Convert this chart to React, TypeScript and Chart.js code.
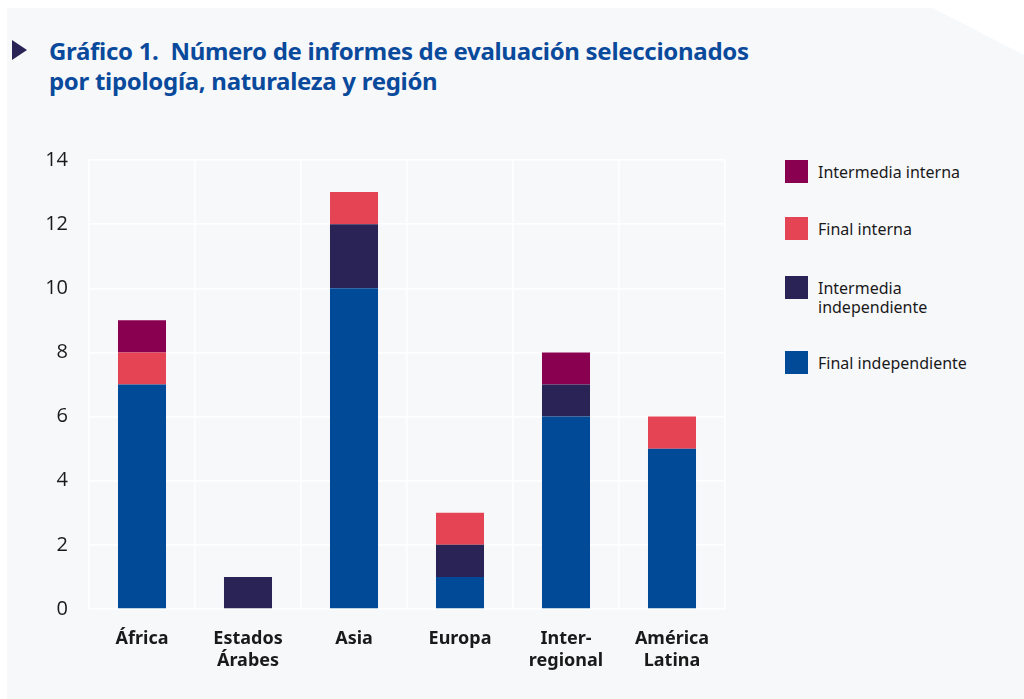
import React, { useEffect, useRef } from "react";
import { Chart, registerables } from "chart.js";

Chart.register(...registerables);

const categories: (string | string[])[] = [
  "África",
  ["Estados", "Árabes"],
  "Asia",
  "Europa",
  ["Inter-", "regional"],
  ["América", "Latina"],
];

const finalIndependiente = [7, 0, 10, 1, 6, 5];
const intermediaIndependiente = [0, 1, 2, 1, 1, 0];
const finalInterna = [1, 0, 1, 1, 0, 1];
const intermediaInterna = [1, 0, 0, 0, 1, 0];

const seriesNames = [
  "Final independiente",
  "Intermedia independiente",
  "Final interna",
  "Intermedia interna",
];
const seriesColors = ["#004a98", "#2a2355", "#e54455", "#8a0050"];

const legendItems = [
  { label: ["Intermedia interna"], color: "#8a0050", top: 160 },
  { label: ["Final interna"], color: "#e54455", top: 217 },
  { label: ["Intermedia", "independiente"], color: "#2a2355", top: 276 },
  { label: ["Final independiente"], color: "#004a98", top: 351 },
];

export default function App() {
  const canvasRef = useRef<HTMLCanvasElement>(null);

  useEffect(() => {
    if (!canvasRef.current) return;
    const data = [finalIndependiente, intermediaIndependiente, finalInterna, intermediaInterna];
    const chart = new Chart(canvasRef.current, {
      type: "bar",
      data: {
        labels: categories,
        datasets: data.map((d, i) => ({
          label: seriesNames[i],
          data: d,
          backgroundColor: seriesColors[i],
          borderWidth: 0,
          barPercentage: 0.453,
          categoryPercentage: 1,
          stack: "s",
        })),
      },
      options: {
        animation: false,
        responsive: false,
        maintainAspectRatio: false,
        layout: { padding: { top: 10, right: 5, left: 0, bottom: 0 } },
        plugins: {
          legend: { display: false },
          tooltip: { enabled: false },
          title: { display: false },
        },
        scales: {
          x: {
            stacked: true,
            grid: { color: "#ffffff", lineWidth: 1.5, drawTicks: false, offset: true },
            border: { display: false },
            ticks: {
              color: "#1a1a1a",
              font: { family: "'Noto Sans', 'Open Sans', sans-serif", size: 18, weight: "bold", lineHeight: 1.22 },
              padding: 19,
              maxRotation: 0,
              autoSkip: false,
            },
            afterFit: (scale: any) => {
              scale.height = 81;
            },
          },
          y: {
            stacked: true,
            min: 0,
            max: 14,
            grid: { color: "#ffffff", lineWidth: 1.5, drawTicks: false },
            border: { display: false },
            ticks: {
              stepSize: 2,
              color: "#1a1a1a",
              font: { family: "'Open Sans', 'Noto Sans', sans-serif", size: 20 },
              padding: 21,
            },
            afterFit: (scale: any) => {
              scale.width = 59;
            },
          },
        },
      },
    });
    return () => chart.destroy();
  }, []);

  return (
    <div
      style={{
        position: "absolute",
        left: 0,
        top: 0,
        width: 1024,
        height: 699,
        background: "#ffffff",
        overflow: "hidden",
      }}
    >
      <div
        style={{
          position: "absolute",
          left: 7,
          top: 8,
          width: 1017,
          height: 691,
          background: "#f7f8fa",
          clipPath: "polygon(0 0, 926px 0, 1017px 47px, 1017px 691px, 0 691px)",
        }}
      />
      <div
        style={{
          position: "absolute",
          left: 12,
          top: 40,
          width: 0,
          height: 0,
          borderTop: "10px solid transparent",
          borderBottom: "10px solid transparent",
          borderLeft: "15px solid #2a2355",
        }}
      />
      <div
        style={{
          position: "absolute",
          left: 49,
          top: 36,
          fontFamily: "'Noto Sans', 'Open Sans', sans-serif",
          fontWeight: 700,
          fontSize: 24,
          lineHeight: "30px",
          color: "#0a4a9c",
          letterSpacing: -0.3,
          whiteSpace: "nowrap",
        }}
      >
        <div>Gráfico 1.&nbsp; Número de informes de evaluación seleccionados</div>
        <div>por tipología, naturaleza y región</div>
      </div>
      <canvas
        ref={canvasRef}
        width={700}
        height={563}
        style={{ position: "absolute", left: 30, top: 127, width: 700, height: 563 }}
      />
      {legendItems.map((it, i) => (
        <div key={i}>
          <div
            style={{
              position: "absolute",
              left: 785,
              top: it.top,
              width: 23,
              height: 23,
              background: it.color,
            }}
          />
          <div
            style={{
              position: "absolute",
              left: 818,
              top: it.top + 3,
              fontFamily: "'Noto Sans', 'Open Sans', sans-serif",
              fontSize: 16,
              lineHeight: "19px",
              color: "#1a1a1a",
              whiteSpace: "nowrap",
            }}
          >
            {it.label.map((l, j) => (
              <div key={j}>{l}</div>
            ))}
          </div>
        </div>
      ))}
    </div>
  );
}
